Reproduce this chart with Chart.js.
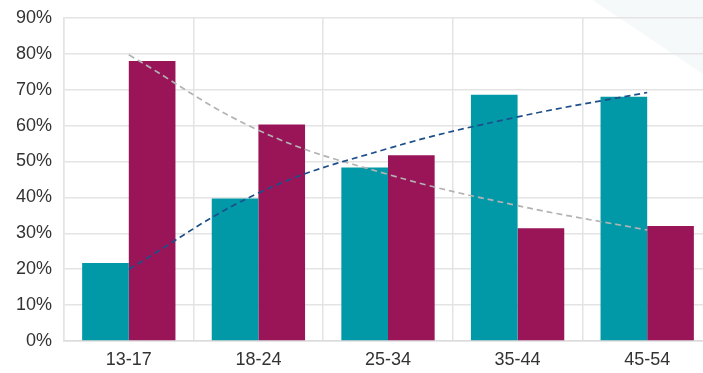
<!DOCTYPE html>
<html lang="en">
  <head>
    <meta charset="UTF-8" />
    <title>Age groups</title>
    <script src="https://cdn.jsdelivr.net/npm/chart.js@4"></script>
    <style>
      html, body { margin: 0; padding: 0; background: #fff; overflow: hidden; }
      #wrap { width: 712px; height: 378px; margin-top: -5px; }
    </style>
  </head>
  <body>
    <div id="wrap"><canvas id="myChart"></canvas></div>

    <script>
      // data
      const ageGroups = ["13-17", "18-24", "25-34", "35-44", "45-54"];
      const tealValues = [21.7, 39.7, 48.3, 68.6, 68.0];
      const maroonValues = [78.0, 60.3, 51.7, 31.4, 32.0];
      // dashed trend lines as drawn
      const tealTrend = [20.0, 41.2, 53.6, 62.4, 69.2];
      const maroonTrend = [79.7, 58.7, 46.4, 37.7, 30.9];
      const yTicks = [0, 10, 20, 30, 40, 50, 60, 70, 80, 90];

      const font = { family: "'Liberation Sans', Arial, sans-serif", size: 18 };

      // faint corner shape in the top right
      const cornerShape = {
        id: "cornerShape",
        beforeDraw(chart) {
          const c = chart.ctx;
          c.save();
          c.fillStyle = "#f5f9fa";
          c.beginPath();
          c.moveTo(585, 0);
          c.lineTo(712, 0);
          c.lineTo(712, 85);
          c.closePath();
          c.fill();
          c.restore();
        },
      };

      const ctx = document.querySelector("#myChart").getContext("2d");
      new Chart(ctx, {
        type: "bar",
        data: {
          labels: ageGroups,
          datasets: [
            {
              type: "line",
              data: tealTrend,
              borderColor: "#1d4f8a",
              borderWidth: 1.7,
              borderDash: [6, 4],
              pointRadius: 0,
              tension: 0.4,
              order: 0,
            },
            {
              type: "line",
              data: maroonTrend,
              borderColor: "#b3b3b3",
              borderWidth: 1.7,
              borderDash: [6, 4],
              pointRadius: 0,
              tension: 0.4,
              order: 0,
            },
            {
              data: tealValues,
              backgroundColor: "#0199a8",
              barPercentage: 1,
              categoryPercentage: 0.72,
              order: 1,
            },
            {
              data: maroonValues,
              backgroundColor: "#991558",
              barPercentage: 1,
              categoryPercentage: 0.72,
              order: 1,
            },
          ],
        },
        options: {
          responsive: true,
          maintainAspectRatio: false,
          animation: false,
          layout: { padding: { top: 12, right: 0, left: 0, bottom: 0 } },
          plugins: { legend: { display: false }, tooltip: { enabled: false } },
          scales: {
            x: {
              grid: { color: "#e4e4e4", lineWidth: 1.5, drawTicks: false },
              border: { color: "#dcdcdc", width: 1.5 },
              ticks: { color: "#333", font: font, padding: 8 },
              afterFit(scale) { scale.height = 32; },
            },
            y: {
              min: 0,
              max: 90,
              afterBuildTicks(scale) {
                scale.ticks = yTicks.map((v) => ({ value: v }));
              },
              grid: { color: "#e4e4e4", lineWidth: 1.5, drawTicks: false },
              border: { color: "#e4e4e4", width: 1.5 },
              ticks: {
                color: "#333",
                font: font,
                padding: 12,
                callback: (v) => v + "%",
              },
              afterFit(scale) { scale.width = 64; },
            },
          },
        },
        plugins: [cornerShape],
      });
    </script>
  </body>
</html>
